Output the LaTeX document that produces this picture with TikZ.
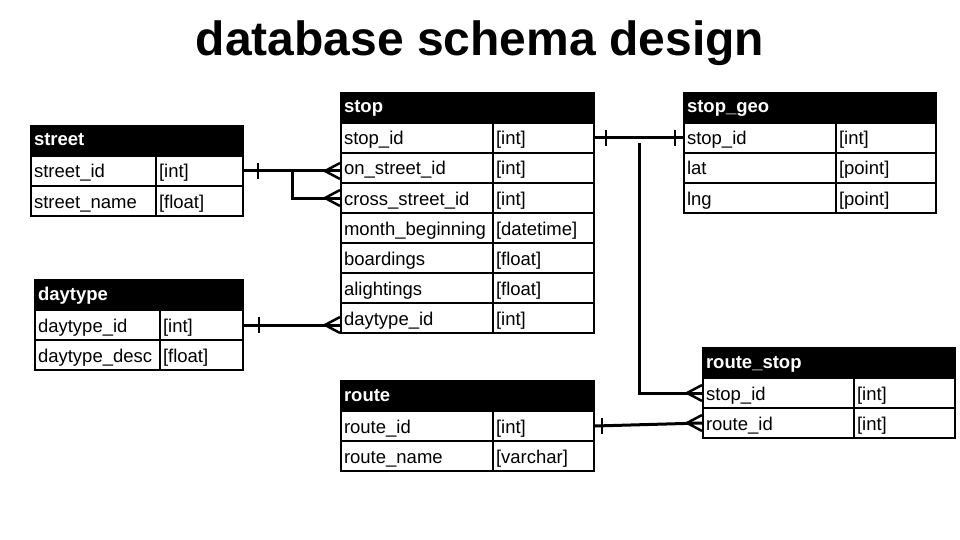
\documentclass[tikz,border=0pt]{standalone}
\usepackage{fontspec}
\setmainfont{Liberation Sans}
\tikzset{
  field/.style={draw,line width=2pt,anchor=north west,minimum height=30pt,
    inner xsep=3pt,inner ysep=0pt,text height=16pt,text depth=2pt,align=left,
    font=\fontsize{18.5}{22}\selectfont},
  header/.style={field,fill=black,text=white,text height=13pt,text depth=3pt,
    font=\bfseries\fontsize{18.5}{22}\selectfont},
  title/.style={font=\bfseries\fontsize{48}{56}\selectfont},
  link/.style={line width=3pt},
  one/.pic={\draw[line width=2.5pt] (0,-8) -- (0,8);},
  many/.pic={\draw[line width=2.5pt] (0,-8) -- (-15,0) -- (0,8);},
}
\begin{document}
\begin{tikzpicture}[x=1pt,y=-1pt]
  \useasboundingbox (0,0) rectangle (960,540);

  \node[title,anchor=base] (title) at (480,56) {database schema design};

  % Street
  \node[header,text width=206pt] (street) at (30,125) {street};
  \foreach \n/\t [count=\i] in {street\_id/[int],street\_name/[float]} {
    \node[field,text width=119pt] (street-\i) at (30,125+30*\i) {\n};
    \node[field,text width=81pt] (street-\i t) at (155,125+30*\i) {\t};
  }

  % Daytype
  \node[header,text width=202pt] (daytype) at (34,279) {daytype};
  \foreach \n/\t [count=\i] in {daytype\_id/[int],daytype\_desc/[float]} {
    \node[field,text width=119pt] (daytype-\i) at (34,279+30*\i) {\n};
    \node[field,text width=77pt] (daytype-\i t) at (159,279+30*\i) {\t};
  }

  % Stop
  \node[header,text width=247pt] (stop) at (340,92) {stop};
  \foreach \n/\t [count=\i] in {stop\_id/[int],on\_street\_id/[int],
      cross\_street\_id/[int],month\_beginning/[datetime],boardings/[float],
      alightings/[float],daytype\_id/[int]} {
    \node[field,text width=146pt] (stop-\i) at (340,92+30*\i) {\n};
    \node[field,text width=95pt] (stop-\i t) at (492,92+30*\i) {\t};
  }

  % Stop geo
  \node[header,text width=246pt] (stopgeo) at (683,92) {stop\_geo};
  \foreach \n/\t [count=\i] in {stop\_id/[int],lat/[point],lng/[point]} {
    \node[field,text width=146pt] (stopgeo-\i) at (683,92+30*\i) {\n};
    \node[field,text width=94pt] (stopgeo-\i t) at (835,92+30*\i) {\t};
  }

  % Route
  \node[header,text width=247pt] (route) at (340,380) {route};
  \foreach \n/\t [count=\i] in {route\_id/[int],route\_name/[varchar]} {
    \node[field,text width=146pt] (route-\i) at (340,380+30*\i) {\n};
    \node[field,text width=95pt] (route-\i t) at (492,380+30*\i) {\t};
  }

  % Route stop
  \node[header,text width=246pt] (routestop) at (702,347) {route\_stop};
  \foreach \n/\t [count=\i] in {stop\_id/[int],route\_id/[int]} {
    \node[field,text width=145pt] (routestop-\i) at (702,347+30*\i) {\n};
    \node[field,text width=95pt] (routestop-\i t) at (853,347+30*\i) {\t};
  }

  % Links
  \draw[link] (street-1t.east) -- (street-1t.east -| stop-2.west);
  \draw[link] ([xshift=48pt]street-1t.east) |- (stop-3.west);
  \path ([xshift=14pt]street-1t.east) pic {one};
  \path (street-1t.east -| stop-2.west) pic {many};
  \path (stop-3.west) pic {many};

  \draw[link] (daytype-1t.east) -- (daytype-1t.east -| stop-7.west);
  \path ([xshift=15pt]daytype-1t.east) pic {one};
  \path (daytype-1t.east -| stop-7.west) pic {many};

  \draw[link] (stop-1t.east) -- (stopgeo-1.west);
  \path ([xshift=11pt]stop-1t.east) pic {one};
  \path ([xshift=-8pt]stopgeo-1.west) pic {one};

  \draw[link] ([xshift=44pt,yshift=-5pt]stop-1t.east) |- (routestop-1.west);
  \path (routestop-1.west) pic {many};

  \draw[link] (route-1t.east) -- (routestop-2.west);
  \path ([xshift=7pt]route-1t.east) pic {one};
  \path (routestop-2.west) pic {many};
\end{tikzpicture}
\end{document}
